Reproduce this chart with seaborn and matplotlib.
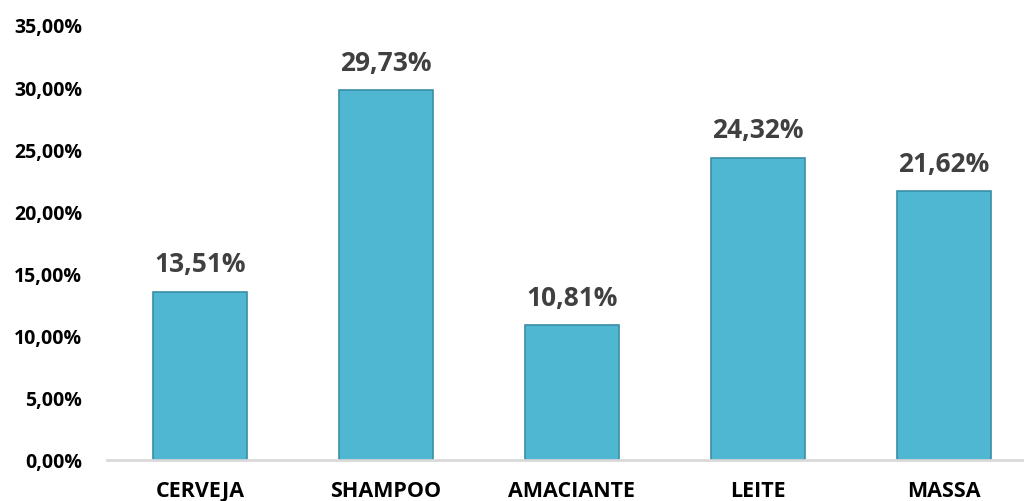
import matplotlib
matplotlib.use("Agg")
import matplotlib.pyplot as plt
import seaborn as sns
import pandas as pd
from matplotlib.ticker import FuncFormatter, MultipleLocator

categories = ["CERVEJA", "SHAMPOO", "AMACIANTE", "LEITE", "MASSA"]
values = [13.51, 29.73, 10.81, 24.32, 21.62]
value_labels = ["13,51%", "29,73%", "10,81%", "24,32%", "21,62%"]

sns.set_theme(style="white")
plt.rcParams['font.family'] = ['Open Sans', 'DejaVu Sans']

df = pd.DataFrame({"cat": categories, "val": values})

fig = plt.figure(figsize=(10.24, 5.02), dpi=100)
ax = fig.add_axes([107/1024, (502-460.5)/502, 930/1024, 434.5/502])

sns.barplot(data=df, x="cat", y="val", color="#4FB7D1", saturation=1,
            width=0.505, edgecolor="#3A8FA6", linewidth=1.2, ax=ax)

ax.set_ylim(0, 35)
ax.set_xlim(-0.5, len(categories) - 0.5)
ax.yaxis.set_major_locator(MultipleLocator(5))
ax.yaxis.set_major_formatter(FuncFormatter(lambda v, p: f"{v:.2f}".replace(".", ",") + "%"))

for i, (v, lab) in enumerate(zip(values, value_labels)):
    ax.annotate(lab, (i, v), xytext=(0, 10.5), textcoords="offset points",
                ha="center", va="bottom", fontsize=19, fontweight="bold", color="#404040")

ax.set_xlabel("")
ax.set_ylabel("")
for s in ["top", "right", "left"]:
    ax.spines[s].set_visible(False)
ax.spines["bottom"].set_color("#D9D9D9")
ax.spines["bottom"].set_linewidth(2)
ax.tick_params(axis="y", length=0, pad=18, labelsize=14)
ax.tick_params(axis="x", length=0, pad=14.5, labelsize=15.5)
for t in ax.get_yticklabels() + ax.get_xticklabels():
    t.set_fontweight("bold")
    t.set_color("black")
ax.grid(False)

fig.savefig("out.png", dpi=100)
